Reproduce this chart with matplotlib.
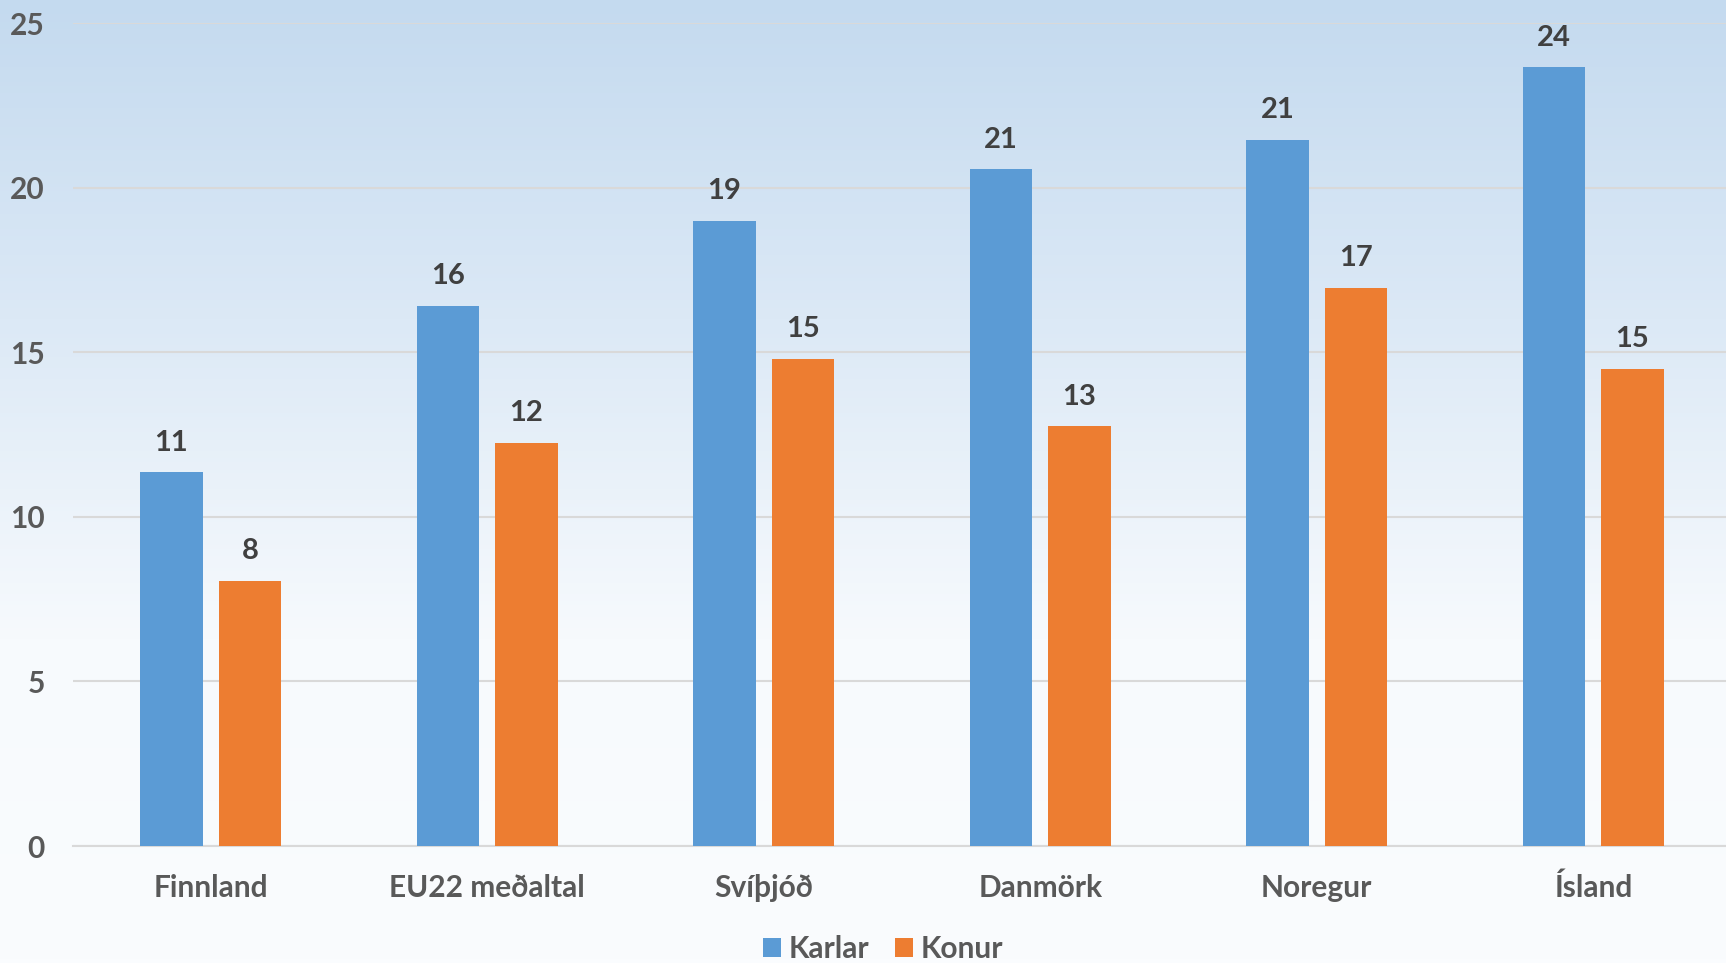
import numpy as np
import matplotlib.pyplot as plt
from matplotlib.colors import LinearSegmentedColormap

# data
categories = ['Finnland', 'EU22 meðaltal', 'Svíþjóð', 'Danmörk', 'Noregur', 'Ísland']
karlar = [11.35, 16.4, 19.0, 20.55, 21.45, 23.65]
konur = [8.05, 12.25, 14.8, 12.75, 16.95, 14.5]
yticks = [0, 5, 10, 15, 20, 25]

plt.rcParams['font.family'] = ['Lato', 'DejaVu Sans']
plt.rcParams['font.weight'] = 'bold'

fig = plt.figure(figsize=(17.26, 9.63), dpi=100)

# gradient background
bg = fig.add_axes([0, 0, 1, 1], zorder=-10)
cmap = LinearSegmentedColormap.from_list('bg', ['#C4DAEF', '#DCE9F6', '#F7FAFD', '#FAFCFE'])
grad = np.linspace(0, 1, 256).reshape(-1, 1)
bg.imshow(grad, aspect='auto', cmap=cmap, extent=[0, 1, 0, 1], origin='upper')
bg.axis('off')

# plot area runs a little past the right edge, as in the original
ax = fig.add_axes([72.5 / 1726, 1 - 846 / 963, 1659 / 1726, (846 - 23) / 963])
ax.set_facecolor('none')

x = np.arange(len(categories))
w = 0.225
off = 0.142
b1 = ax.bar(x - off, karlar, w, color='#5B9BD5', label='Karlar', zorder=3)
b2 = ax.bar(x + off, konur, w, color='#ED7D31', label='Konur', zorder=3)

for bars, vals in [(b1, karlar), (b2, konur)]:
    for rect, v in zip(bars, vals):
        ax.annotate(f'{np.floor(v + 0.5):.0f}', (rect.get_x() + rect.get_width() / 2, v),
                    xytext=(0, 12), textcoords='offset points', ha='center', va='bottom',
                    fontsize=21, fontweight='bold', color='#404040')

ax.set_xlim(-0.5, len(categories) - 0.5)
ax.set_ylim(0, 25)
ax.set_yticks(yticks)
ax.set_xticks(x)
ax.set_xticklabels(categories)
ax.tick_params(axis='both', length=0, labelsize=21.5, labelcolor='#595959')
ax.tick_params(axis='y', pad=20)
ax.tick_params(axis='x', pad=20)
ax.grid(axis='y', color='#D9D9D9', linewidth=1.5, zorder=0)
for s in ['top', 'right', 'left']:
    ax.spines[s].set_visible(False)
ax.spines['bottom'].set_color('#D9D9D9')
ax.spines['bottom'].set_linewidth(1.5)

fig.legend(handles=[b1, b2], loc='center', bbox_to_anchor=(883 / 1726, 1 - 949 / 963),
           ncol=2, frameon=False, fontsize=21.5, labelcolor='#595959',
           handlelength=0.6, handleheight=0.6, handletextpad=0.26, columnspacing=0.88)

fig.savefig('out.png', dpi=100)
